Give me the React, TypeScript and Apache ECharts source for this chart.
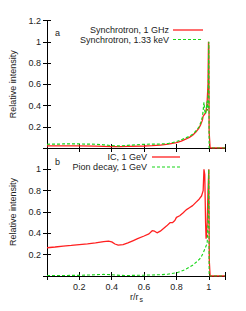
import React, { useEffect, useRef } from 'react';
import * as echarts from 'echarts';

// Panel a
const syncRadio: [number, number][] = [
  [0, 0.02], [0.1, 0.02], [0.2, 0.02], [0.3, 0.018], [0.4, 0.013], [0.45, 0.012], [0.5, 0.015],
  [0.6, 0.019], [0.65, 0.022], [0.7, 0.028], [0.75, 0.036], [0.8, 0.05], [0.83, 0.065],
  [0.86, 0.085], [0.88, 0.1], [0.9, 0.12], [0.92, 0.15], [0.94, 0.19], [0.95, 0.22],
  [0.96, 0.26], [0.965, 0.3], [0.97, 0.31], [0.975, 0.32], [0.98, 0.33], [0.985, 0.36],
  [0.99, 0.45], [0.995, 0.6], [0.998, 1.0], [1.0, 0.95], [1.002, 0.15], [1.006, 0.15],
  [1.008, 0.0], [1.1, 0],
];
const syncXray: [number, number][] = [
  [0, 0.035], [0.1, 0.038], [0.2, 0.038], [0.3, 0.035], [0.35, 0.03], [0.4, 0.022],
  [0.45, 0.02], [0.5, 0.025], [0.55, 0.03], [0.6, 0.035], [0.7, 0.037], [0.75, 0.042],
  [0.8, 0.06], [0.85, 0.09], [0.88, 0.11], [0.9, 0.13], [0.92, 0.16], [0.94, 0.2],
  [0.95, 0.24], [0.96, 0.29], [0.965, 0.35], [0.97, 0.43], [0.975, 0.35], [0.98, 0.32],
  [0.985, 0.38], [0.99, 0.44], [0.993, 0.35], [0.997, 0.6], [1.0, 1.0], [1.002, 0.0], [1.1, 0],
];

// Panel b
const icGamma: [number, number][] = [
  [0, 0.265], [0.05, 0.272], [0.1, 0.28], [0.15, 0.287], [0.2, 0.295], [0.25, 0.302],
  [0.3, 0.31], [0.35, 0.322], [0.38, 0.327], [0.4, 0.32], [0.42, 0.3], [0.44, 0.29],
  [0.47, 0.295], [0.5, 0.31], [0.53, 0.33], [0.56, 0.35], [0.6, 0.375], [0.63, 0.395],
  [0.65, 0.425], [0.665, 0.42], [0.68, 0.405], [0.7, 0.42], [0.72, 0.445], [0.74, 0.47],
  [0.76, 0.5], [0.775, 0.5], [0.79, 0.52], [0.8, 0.55], [0.82, 0.565], [0.84, 0.59],
  [0.86, 0.62], [0.88, 0.64], [0.9, 0.66], [0.92, 0.69], [0.94, 0.72], [0.955, 0.75],
  [0.965, 0.8], [0.97, 1.0], [0.975, 0.95], [0.98, 0.5], [0.983, 0.35], [0.986, 0.38],
  [0.99, 0.5], [0.995, 0.8], [1.0, 1.0], [1.003, 0.14], [1.006, 0.14], [1.008, 0], [1.1, 0],
];
const pionGamma: [number, number][] = [
  [0, 0.005], [0.1, 0.005], [0.2, 0.006], [0.3, 0.012], [0.35, 0.015], [0.4, 0.012],
  [0.45, 0.006], [0.5, 0.005], [0.6, 0.008], [0.65, 0.01], [0.7, 0.012], [0.75, 0.018],
  [0.8, 0.03], [0.83, 0.045], [0.86, 0.065], [0.9, 0.1], [0.93, 0.14], [0.95, 0.17],
  [0.965, 0.215], [0.98, 0.27], [0.99, 0.31], [0.995, 0.5], [1.0, 1.0], [1.002, 0], [1.1, 0],
];

const seriesNames = ['Synchrotron, 1 GHz', 'Synchrotron, 1.33 keV', 'IC, 1 GeV', 'Pion decay, 1 GeV'];
const xTickLabels = [0.2, 0.4, 0.6, 0.8, 1];
const yTickLabelsA = [0.2, 0.4, 0.6, 0.8, 1, 1.2];
const yTickLabelsB = [0.2, 0.4, 0.6, 0.8, 1];

const RED = '#ff2020';
const GREEN = '#19d619';
const FONT = 'Liberation Sans, Arial, sans-serif';
const TXT = '#222';

const fmt = (list: number[]) => (v: number) =>
  list.some((t) => Math.abs(t - v) < 1e-6) ? String(+v.toFixed(1)) : '';

export default function App() {
  const ref = useRef<HTMLDivElement>(null);
  useEffect(() => {
    const chart = echarts.init(ref.current!, null, { renderer: 'svg' });
    const L = 47, W = 178;
    const grids = [
      { left: L, top: 20.5, width: W, height: 127.5 },
      { left: L, top: 148, width: W, height: 128 },
    ];
    const axisLine = { show: true, lineStyle: { color: '#000', width: 1 } };
    const tick = { show: true, inside: true, length: 4, lineStyle: { color: '#000', width: 1 } };
    const xBase = { type: 'value', min: 0, max: 1.1, interval: 0.2, splitLine: { show: false }, axisLine, axisTick: tick };
    const yBase = { type: 'value', min: 0, max: 1.2, interval: 0.2, splitLine: { show: false }, axisLine, axisTick: tick };
    const labelStyle = { color: TXT, fontSize: 9, fontFamily: FONT };
    const option: any = {
      animation: false,
      backgroundColor: '#fff',
      grid: grids,
      xAxis: [
        { ...xBase, gridIndex: 0, position: 'bottom', axisLabel: { show: false } },
        { ...xBase, gridIndex: 0, position: 'top', axisLabel: { show: false } },
        { ...xBase, gridIndex: 1, position: 'bottom', axisLabel: { ...labelStyle, margin: 6, formatter: fmt(xTickLabels) } },
        { ...xBase, gridIndex: 1, position: 'top', axisLabel: { show: false } },
      ],
      yAxis: [
        {
          ...yBase, gridIndex: 0, position: 'left',
          axisLabel: { ...labelStyle, margin: 6, formatter: fmt(yTickLabelsA) },
          name: 'Relative intensity', nameLocation: 'middle', nameRotate: 90, nameGap: 30,
          nameTextStyle: { color: TXT, fontSize: 9, fontFamily: FONT },
        },
        { ...yBase, gridIndex: 0, position: 'right', axisLabel: { show: false } },
        {
          ...yBase, gridIndex: 1, position: 'left',
          axisLabel: { ...labelStyle, margin: 6, formatter: fmt(yTickLabelsB) },
          name: 'Relative intensity', nameLocation: 'middle', nameRotate: 90, nameGap: 30,
          nameTextStyle: { color: TXT, fontSize: 9, fontFamily: FONT },
        },
        { ...yBase, gridIndex: 1, position: 'right', axisLabel: { show: false } },
      ],
      series: [
        { name: seriesNames[0], type: 'line', xAxisIndex: 0, yAxisIndex: 0, data: syncRadio, symbol: 'none', lineStyle: { color: RED, width: 1.3 } },
        { name: seriesNames[1], type: 'line', xAxisIndex: 0, yAxisIndex: 0, data: syncXray, symbol: 'none', lineStyle: { color: GREEN, width: 1.2, type: [3, 2] } },
        { name: seriesNames[2], type: 'line', xAxisIndex: 2, yAxisIndex: 2, data: icGamma, symbol: 'none', lineStyle: { color: RED, width: 1.3 } },
        { name: seriesNames[3], type: 'line', xAxisIndex: 2, yAxisIndex: 2, data: pionGamma, symbol: 'none', lineStyle: { color: GREEN, width: 1.1, type: [3, 2] } },
      ],
      graphic: [
        { type: 'text', left: 55, top: 28, style: { text: 'a', fill: TXT, font: `9px ${FONT}` } },
        { type: 'text', left: 55, top: 157, style: { text: 'b', fill: TXT, font: `9px ${FONT}` } },
        { type: 'text', x: 169, y: 30, style: { text: seriesNames[0], fill: TXT, font: `9px ${FONT}`, align: 'right', verticalAlign: 'middle' } },
        { type: 'line', shape: { x1: 173, y1: 30, x2: 203, y2: 30 }, style: { stroke: RED, lineWidth: 1.3 } },
        { type: 'text', x: 169, y: 39.5, style: { text: seriesNames[1], fill: TXT, font: `9px ${FONT}`, align: 'right', verticalAlign: 'middle' } },
        { type: 'line', shape: { x1: 173, y1: 39.5, x2: 203, y2: 39.5 }, style: { stroke: GREEN, lineWidth: 1.2, lineDash: [3, 2] } },
        { type: 'text', x: 147, y: 157, style: { text: seriesNames[2], fill: TXT, font: `9px ${FONT}`, align: 'right', verticalAlign: 'middle' } },
        { type: 'line', shape: { x1: 152, y1: 157, x2: 180, y2: 157 }, style: { stroke: RED, lineWidth: 1.3 } },
        { type: 'text', x: 147, y: 167, style: { text: seriesNames[3], fill: TXT, font: `9px ${FONT}`, align: 'right', verticalAlign: 'middle' } },
        { type: 'line', shape: { x1: 152, y1: 167, x2: 180, y2: 167 }, style: { stroke: GREEN, lineWidth: 1.1, lineDash: [3, 2] } },
        { type: 'text', x: 130, y: 296.5, style: { text: 'r/r', fill: TXT, font: `9px ${FONT}`, verticalAlign: 'middle' } },
        { type: 'text', x: 139.5, y: 299.5, style: { text: 's', fill: TXT, font: `7px ${FONT}`, verticalAlign: 'middle' } },
      ],
    };
    chart.setOption(option);
    return () => chart.dispose();
  }, []);
  return (
    <div
      ref={ref}
      style={{ position: 'fixed', left: 0, top: 0, width: 246, height: 311, background: '#fff' }}
    />
  );
}
